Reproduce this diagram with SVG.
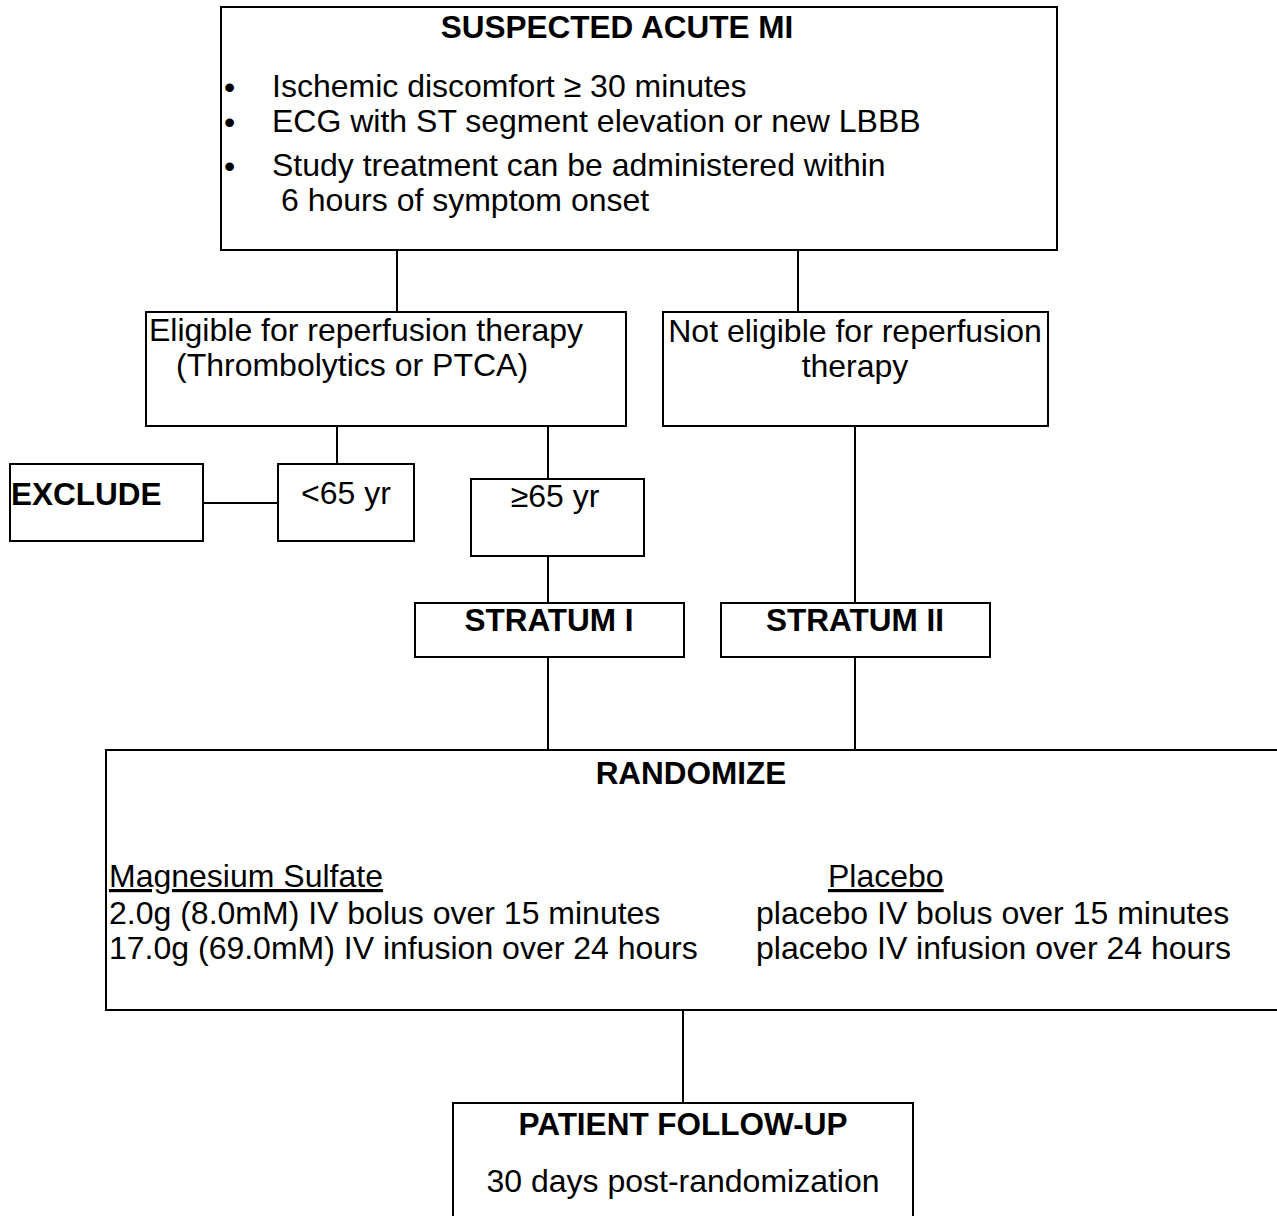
<svg xmlns="http://www.w3.org/2000/svg" width="1277" height="1216" viewBox="0 0 1277 1216">
<style>
rect{fill:#fff;stroke:#000;stroke-width:2}
line{stroke:#000;stroke-width:2}
text{font-family:"Liberation Sans",Arial,sans-serif;font-size:32px;fill:#000}
.b{font-weight:bold;font-size:31.5px}
.c{text-anchor:middle}
.u{text-decoration:underline}
</style>
<rect width="1277" height="1216" style="stroke:none"/>
<g id="connectors">
<line x1="397" y1="250" x2="397" y2="312"/>
<line x1="798" y1="250" x2="798" y2="312"/>
<line x1="337" y1="426" x2="337" y2="464"/>
<line x1="548" y1="426" x2="548" y2="479"/>
<line x1="203" y1="503" x2="278" y2="503"/>
<line x1="548" y1="556" x2="548" y2="603"/>
<line x1="855" y1="426" x2="855" y2="603"/>
<line x1="548" y1="657" x2="548" y2="750"/>
<line x1="855" y1="657" x2="855" y2="750"/>
<line x1="616" y1="797" x2="432" y2="890"/>
<line x1="722" y1="797" x2="830" y2="887"/>
<line x1="683" y1="1010" x2="683" y2="1103"/>
</g>
<g id="suspected">
<rect x="221" y="7" width="836" height="243"/>
<text class="b c" x="617" y="38">SUSPECTED ACUTE MI</text>
<text x="224" y="98">•</text><text x="272" y="97">Ischemic discomfort ≥ 30 minutes</text>
<text x="224" y="133">•</text><text x="272" y="132">ECG with ST segment elevation or new LBBB</text>
<text x="224" y="177">•</text><text x="272" y="176">Study treatment can be administered within</text>
<text x="281" y="211">6 hours of symptom onset</text>
</g>
<g id="eligible">
<rect x="146" y="312" width="480" height="114"/>
<text x="149" y="341">Eligible for reperfusion therapy</text>
<text x="176" y="376">(Thrombolytics or PTCA)</text>
</g>
<g id="noteligible">
<rect x="663" y="312" width="385" height="114"/>
<text class="c" x="855" y="342">Not eligible for reperfusion</text>
<text class="c" x="855" y="377">therapy</text>
</g>
<g id="exclude">
<rect x="10" y="464" width="193" height="77"/>
<text class="b" x="11" y="505">EXCLUDE</text>
</g>
<g id="under65">
<rect x="278" y="464" width="136" height="77"/>
<text class="c" x="346" y="504">&lt;65 yr</text>
</g>
<g id="over65">
<rect x="471" y="479" width="173" height="77"/>
<text class="c" x="555" y="507">≥65 yr</text>
</g>
<g id="stratum1">
<rect x="415" y="603" width="269" height="54"/>
<text class="b c" x="549" y="631">STRATUM I</text>
</g>
<g id="stratum2">
<rect x="721" y="603" width="269" height="54"/>
<text class="b c" x="855" y="631">STRATUM II</text>
</g>
<g id="randomize">
<rect x="106" y="750" width="1190" height="260"/>
<text class="b c" x="691" y="784">RANDOMIZE</text>
<text class="u" x="109" y="887">Magnesium Sulfate</text>
<text x="109" y="924">2.0g (8.0mM) IV bolus over 15 minutes</text>
<text x="109" y="959">17.0g (69.0mM) IV infusion over 24 hours</text>
<text class="u" x="828" y="887">Placebo</text>
<text x="756" y="924">placebo IV bolus over 15 minutes</text>
<text x="756" y="959">placebo IV infusion over 24 hours</text>
</g>
<g id="followup">
<rect x="453" y="1103" width="460" height="130"/>
<text class="b c" x="683" y="1135">PATIENT FOLLOW-UP</text>
<text class="c" x="683" y="1192">30 days post-randomization</text>
</g>
</svg>
